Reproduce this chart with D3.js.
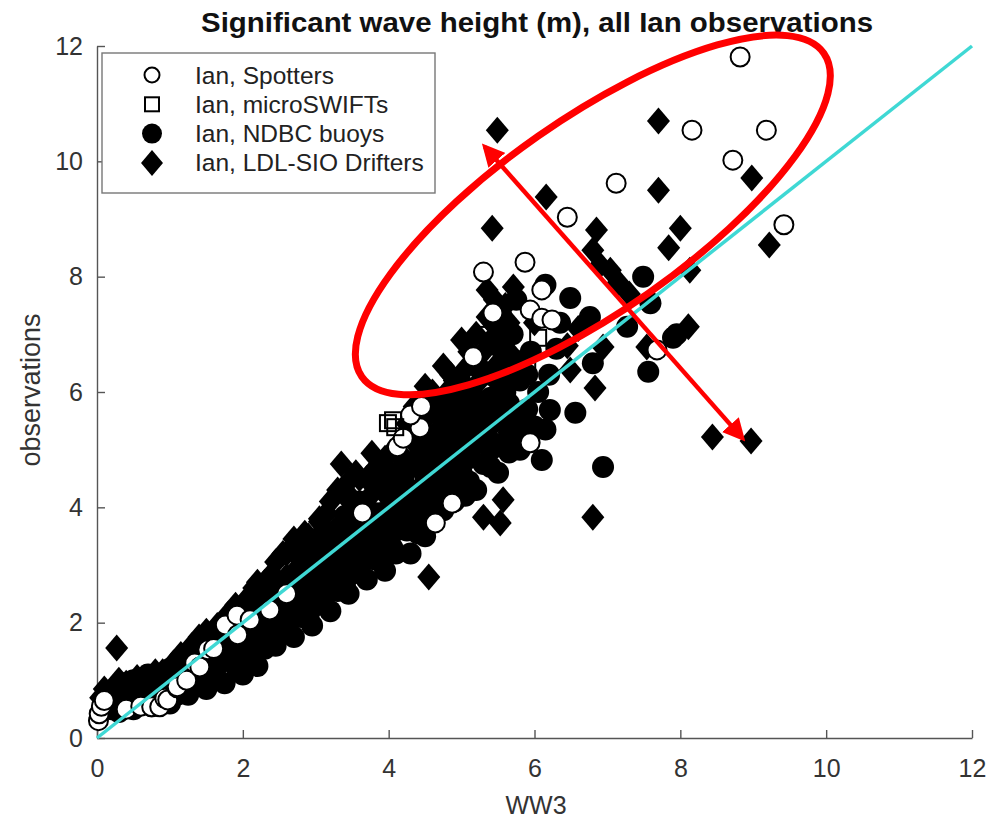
<!DOCTYPE html>
<html>
<head>
<meta charset="utf-8">
<script src="https://cdn.jsdelivr.net/npm/d3@7"></script>
<style>
  body { margin: 0; background: #fff; }
  svg { font-family: "Liberation Sans", Arial, sans-serif; }
</style>
</head>
<body>
<svg id="chart" width="999" height="821"></svg>
<script>
let spotters = [
    [0.02,0.3],[0.03,0.42],[0.06,0.55],[0.1,0.65],[0.4,0.5],[0.6,0.55],[0.75,0.54],[0.86,0.54],
    [0.93,0.69],[0.97,0.66],[1.1,0.87],[1.1,0.89],[1.23,1.0],[1.34,1.3],[1.41,1.23],[1.52,1.53],
    [1.6,1.55],[1.76,1.96],[1.93,1.79],[1.92,2.13],[2.1,2.05],[2.37,2.22],[2.6,2.5],[3.64,3.9],
    [4.12,5.05],[4.2,5.2],[4.43,5.38],[4.3,5.6],[4.45,5.75],[4.64,3.73],[4.87,4.07],[5.16,6.61],
    [5.43,7.37],[5.94,7.42],[6.10,7.28],[6.24,7.25],[5.3,8.08],[5.87,8.25],[6.1,7.77],[5.94,5.12],
    [7.68,6.73],[8.82,11.81],[8.16,10.54],[9.18,10.54],[8.72,10.02],[7.12,9.62],[6.45,9.03],[9.42,8.9]
]
let microswifts = [
    [3.99,5.46],[4.09,5.39],[4.06,5.51],[5.32,6.99],[5.6,6.76],[5.9,6.5],[6.05,6.94]
]
let ndbc = [
    [0.1,0.55],[0.15,0.8],[0.3,0.45],[0.3,0.75],[0.35,0.95],[0.5,0.5],[0.55,0.8],[0.5,1.0],
    [0.75,0.55],[0.8,0.85],[0.7,1.1],[1.0,0.6],[1.05,0.9],[1.0,1.2],[1.25,0.75],[1.3,1.05],[1.2,1.4],
    [1.5,0.85],[1.55,1.2],[1.45,1.55],[1.75,0.95],[1.8,1.35],[1.7,1.8],[2.0,1.1],[2.05,1.5],[1.95,2.0],
    [2.2,1.25],[2.3,1.55],[2.25,2.1],[2.45,1.6],[2.55,1.85],[2.5,2.4],[2.7,1.75],[2.8,2.1],[2.75,2.6],
    [2.95,1.95],[3.0,2.3],[3.05,2.8],[3.0,3.2],[3.2,2.2],[3.3,2.55],[3.25,3.0],[3.3,3.4],
    [3.45,2.5],[3.5,2.85],[3.55,3.3],[3.5,3.7],[3.7,2.75],[3.8,3.1],[3.75,3.5],[3.8,3.9],
    [3.95,2.9],[4.05,3.3],[4.0,3.7],[4.05,4.2],[4.3,3.2],[4.25,3.6],[4.3,4.0],[4.2,4.5],
    [4.5,3.5],[4.55,3.9],[4.5,4.3],[4.45,4.8],[4.75,3.95],[4.8,4.3],[4.7,4.7],[4.75,5.2],
    [5.05,4.2],[5.0,4.6],[5.05,5.0],[5.0,5.5],[5.2,4.3],[5.3,4.75],[5.25,5.3],[5.3,5.8],[5.25,6.4],
    [5.5,4.6],[5.55,5.1],[5.45,5.6],[5.55,6.1],[5.5,6.8],[5.55,7.3],[5.8,5.0],[5.75,5.5],[5.8,6.2],
    [5.7,7.0],[5.75,7.6],[6.0,5.4],[6.1,4.82],[6.05,6.0],[5.95,6.7],[6.35,7.2],
    [0.2,0.5],[0.2,0.7],[0.4,0.55],[0.4,0.8],[0.6,0.6],[0.6,0.85],[0.9,0.7],[0.9,1.0],
    [1.1,0.75],[1.1,1.05],[1.1,1.3],[1.35,0.9],[1.35,1.2],[1.35,1.55],[1.6,1.05],[1.6,1.4],[1.6,1.75],
    [1.9,1.25],[1.9,1.65],[1.9,2.05],[2.1,1.35],[2.1,1.8],[2.1,2.25],[2.35,1.7],[2.35,2.05],[2.35,2.45],
    [2.6,1.9],[2.6,2.25],[2.6,2.65],[2.9,2.1],[2.9,2.5],[2.9,2.95],[2.9,3.35],
    [3.1,2.35],[3.1,2.7],[3.1,3.1],[3.1,3.5],[3.4,2.65],[3.4,3.05],[3.4,3.45],[3.4,3.85],
    [3.6,2.9],[3.6,3.3],[3.6,3.7],[3.6,4.1],[3.9,3.1],[3.9,3.5],[3.9,3.9],[3.9,4.35],
    [4.1,3.2],[4.1,3.6],[4.1,4.0],[4.1,4.45],[4.4,3.55],[4.4,3.9],[4.4,4.3],[4.4,4.7],[4.4,5.1],
    [4.6,3.8],[4.6,4.15],[4.6,4.55],[4.6,5.0],[4.9,4.1],[4.9,4.5],[4.9,4.9],[4.9,5.3],[4.9,5.7],
    [5.1,4.45],[5.1,4.85],[5.1,5.25],[5.1,5.7],[5.4,4.7],[5.4,5.0],[5.4,5.45],[5.4,5.9],[5.4,6.3],
    [5.65,4.95],[5.65,5.3],[5.65,5.8],[5.65,6.4],[5.9,5.2],[5.9,5.7],[5.9,6.3],
    [0.45,0.65],[0.65,0.7],[0.85,0.75],[0.95,0.85],[1.15,0.9],[1.2,1.15],[1.4,1.05],[1.45,1.35],
    [1.65,1.25],[1.7,1.55],[1.85,1.5],[1.85,1.85],[2.0,1.3],[2.0,1.75],[2.15,1.55],[2.2,2.0],
    [2.4,1.85],[2.45,2.2],[2.65,2.05],[2.65,2.45],[2.85,2.3],[2.85,2.75],[3.05,2.5],[3.05,2.95],
    [3.2,2.85],[3.25,3.25],[3.35,2.85],[3.45,3.25],[3.55,3.1],[3.65,3.5],[3.7,3.9],[3.85,3.3],
    [3.85,3.7],[4.0,3.45],[4.0,3.95],[4.15,3.8],[4.2,4.25],[4.35,3.75],[4.35,4.15],[4.5,4.05],
    [4.5,4.55],[4.7,4.4],[4.7,4.9],[4.85,4.7],[4.95,5.1],[5.15,5.05],[5.2,5.5],[5.35,5.25],
    [5.4,5.65],[5.6,5.55],[5.6,6.0],
    [6.2,6.3],[6.3,6.75],[6.15,5.35],
    [6.49,7.63],[6.76,7.3],[7.49,8.0],[7.27,7.13],[7.9,6.94],[7.95,7.0],[6.8,6.5],[7.56,6.35],
    [6.56,5.64],[6.94,4.7],[6.21,5.69],[7.59,7.54],[6.15,7.86]
]
let drifters = [
    [0.05,0.7],[0.1,0.85],[0.25,0.8],[0.3,1.0],[0.5,0.85],[0.55,1.05],[0.75,0.95],[0.8,1.15],
    [1.0,1.05],[1.05,1.3],[1.25,1.3],[1.3,1.6],[1.5,1.55],[1.5,1.85],[1.75,1.8],[1.8,2.15],
    [2.0,2.05],[2.05,2.4],[2.25,2.35],[2.3,2.7],[2.5,2.65],[2.45,3.05],[2.75,2.95],[2.7,3.45],
    [3.0,3.3],[3.05,3.75],[3.25,3.6],[3.2,4.1],[3.5,3.95],[3.45,4.45],[3.35,4.75],
    [3.75,4.2],[3.8,4.65],[3.77,4.94],[4.0,4.5],[4.0,4.9],[4.25,4.8],[4.3,5.3],[4.35,5.75],
    [4.5,5.1],[4.55,5.6],[4.5,6.1],[4.75,5.5],[4.8,6.0],[4.75,6.45],[5.0,5.9],[5.05,6.4],[5.0,6.9],
    [5.25,6.2],[5.3,6.7],[5.35,7.3],[5.35,7.77],[5.5,6.5],[5.55,7.0],[5.6,7.5],[5.71,7.82],
    [0.15,0.7],[0.4,0.75],[0.4,0.95],[0.65,0.85],[0.65,1.05],[0.9,0.9],[0.9,1.15],
    [1.15,1.15],[1.15,1.45],[1.4,1.4],[1.4,1.75],[1.65,1.65],[1.65,1.95],[1.9,1.9],[1.9,2.3],
    [2.15,2.2],[2.15,2.6],[2.4,2.5],[2.4,2.85],[2.6,2.8],[2.6,3.2],[2.9,3.1],[2.9,3.5],
    [3.15,3.4],[3.15,3.9],[3.4,3.7],[3.4,4.2],[3.6,4.0],[3.6,4.5],[3.9,4.3],[3.9,4.7],
    [4.1,4.6],[4.1,5.0],[4.4,4.9],[4.4,5.4],[4.65,5.3],[4.65,5.85],[4.9,5.6],[4.9,6.2],
    [5.15,6.0],[5.15,6.5],[5.4,6.3],[5.4,6.9],[5.65,6.7],[5.65,7.2],
    [2.2,2.7],[2.55,3.2],[2.85,3.55],[3.05,3.8],[3.3,4.3],[3.55,4.6],[3.7,4.5],[3.95,4.85],
    [4.2,5.2],[4.25,5.45],[4.45,5.85],[4.6,6.0],[4.7,5.75],[4.85,6.3],[5.0,6.2],[5.1,6.7],
    [5.2,7.0],[5.45,7.15],[5.45,7.6],
    [1.2,1.3],[1.55,1.6],[1.95,2.1],[2.35,2.6],[2.75,3.15],[3.1,3.6],[3.5,4.15],[3.85,4.45],
    [5.8,6.5],[6.0,7.2],[6.45,6.8],[6.6,7.1],
    [5.3,3.83],[5.53,3.73],[5.57,4.13],[4.55,2.79],[6.8,3.83],[0.27,1.56],
    [6.8,8.46],[6.9,8.2],[7.04,8.11],[7.15,7.9],[7.3,7.7],[8.13,8.11],[7.54,6.78],[6.94,6.78],
    [6.49,6.38],[6.83,6.07],[5.49,10.54],[6.16,9.38],[7.7,9.5],[7.7,10.7],[5.42,8.84],[6.85,8.81],
    [8.0,8.84],[7.84,8.5],[8.98,9.71],[9.22,8.55],[8.11,7.13],[8.44,5.22],[8.97,5.15]
]
let legendLabels = ['Ian, Spotters', 'Ian, microSWIFTs', 'Ian, NDBC buoys', 'Ian, LDL-SIO Drifters']
let ticks = [0, 2, 4, 6, 8, 10, 12]
let oneToOne = [[0, 0], [12, 12]]
// red annotation drawn over the chart (data units)
let ellipseCentre = [6.8, 9.07]
let arrowEnds = [[5.32, 10.25], [8.85, 5.2]]

let x = d3.scaleLinear().domain([0, 12]).range([97, 972])
let y = d3.scaleLinear().domain([0, 12]).range([738, 46])

let svg = d3.select('#chart')

let diamond = (w, h) => `M0,${-h}L${w},0L0,${h}L${-w},0Z`

// axes, ticks pointing in
svg.append('g')
    .attr('transform', 'translate(0,738)')
    .call(d3.axisBottom(x).tickValues(ticks).tickSize(-8).tickSizeOuter(0).tickPadding(21))
svg.append('g')
    .attr('transform', 'translate(97,0)')
    .call(d3.axisLeft(y).tickValues(ticks).tickSize(-8).tickSizeOuter(0).tickPadding(14))
svg.selectAll('.domain, .tick line').attr('stroke', '#555').attr('stroke-width', 1.4)
svg.selectAll('.tick text').attr('fill', '#333').style('font-size', '25px')

let pts = svg.append('g')

pts.selectAll('.ndbc').data(ndbc)
  .enter().append('circle')
    .attr('cx', (d) => x(d[0]))
    .attr('cy', (d) => y(d[1]))
    .attr('r', 11)
    .attr('fill', '#000')

pts.selectAll('.drifter').data(drifters)
  .enter().append('path')
    .attr('d', diamond(11.5, 13.5))
    .attr('transform', (d) => `translate(${x(d[0])},${y(d[1])})`)
    .attr('fill', '#000')

pts.selectAll('.spotter').data(spotters)
  .enter().append('circle')
    .attr('cx', (d) => x(d[0]))
    .attr('cy', (d) => y(d[1]))
    .attr('r', 9.5)
    .attr('fill', '#fff')
    .attr('stroke', '#000')
    .attr('stroke-width', 2)

pts.selectAll('.swift').data(microswifts)
  .enter().append('rect')
    .attr('x', (d) => x(d[0]) - 8)
    .attr('y', (d) => y(d[1]) - 8)
    .attr('width', 16)
    .attr('height', 16)
    .attr('fill', 'none')
    .attr('stroke', '#000')
    .attr('stroke-width', 2)

svg.append('path')
    .datum(oneToOne)
    .attr('d', d3.line().x((d) => x(d[0])).y((d) => y(d[1])))
    .attr('stroke', '#3fd8d4')
    .attr('stroke-width', 3.5)
    .attr('fill', 'none')

// legend
let legend = svg.append('g')
legend.append('rect')
    .attr('x', 102).attr('y', 53).attr('width', 333).attr('height', 140)
    .attr('fill', '#fff').attr('stroke', '#777').attr('stroke-width', 1.4)
let rowY = (i) => 75 + i * 29.3
legend.append('circle').attr('cx', 152).attr('cy', rowY(0)).attr('r', 7.5)
    .attr('fill', 'none').attr('stroke', '#000').attr('stroke-width', 2)
legend.append('rect').attr('x', 145).attr('y', rowY(1) - 7).attr('width', 14).attr('height', 14)
    .attr('fill', 'none').attr('stroke', '#000').attr('stroke-width', 2)
legend.append('circle').attr('cx', 152).attr('cy', rowY(2)).attr('r', 10).attr('fill', '#000')
legend.append('path').attr('d', diamond(11, 13))
    .attr('transform', `translate(152,${rowY(3)})`).attr('fill', '#000')
legend.selectAll('.lbl').data(legendLabels)
  .enter().append('text')
    .attr('x', 195)
    .attr('y', (d, i) => rowY(i) + 8.5)
    .attr('fill', '#222')
    .style('font-size', '24.5px')
    .text((d) => d)

// titles
svg.append('text')
    .attr('x', 537).attr('y', 32)
    .attr('text-anchor', 'middle')
    .attr('textLength', 672).attr('lengthAdjust', 'spacingAndGlyphs')
    .style('font-size', '28px').style('font-weight', 'bold')
    .attr('fill', '#111')
    .text('Significant wave height (m), all Ian observations')
svg.append('text')
    .attr('x', 536).attr('y', 814)
    .attr('text-anchor', 'middle')
    .style('font-size', '25px').attr('fill', '#333')
    .text('WW3')
svg.append('text')
    .attr('transform', 'translate(40,390) rotate(-90)')
    .attr('text-anchor', 'middle')
    .style('font-size', '27px').attr('fill', '#333')
    .text('observations')

// red annotation
let defs = svg.append('defs')
defs.append('marker')
    .attr('id', 'head')
    .attr('viewBox', '0 0 10 10')
    .attr('refX', 8).attr('refY', 5)
    .attr('markerWidth', 5).attr('markerHeight', 5)
    .attr('orient', 'auto-start-reverse')
  .append('path')
    .attr('d', 'M0,0L10,5L0,10Z')
    .attr('fill', '#f00')

svg.append('ellipse')
    .attr('transform', `translate(${x(ellipseCentre[0])},${y(ellipseCentre[1])}) rotate(-35)`)
    .attr('rx', 282).attr('ry', 96)
    .attr('fill', 'none').attr('stroke', '#f00').attr('stroke-width', 7)

svg.append('path')
    .datum(arrowEnds)
    .attr('d', d3.line().x((d) => x(d[0])).y((d) => y(d[1])))
    .attr('stroke', '#f00').attr('stroke-width', 4.5)
    .attr('marker-start', 'url(#head)').attr('marker-end', 'url(#head)')
</script>
</body>
</html>
